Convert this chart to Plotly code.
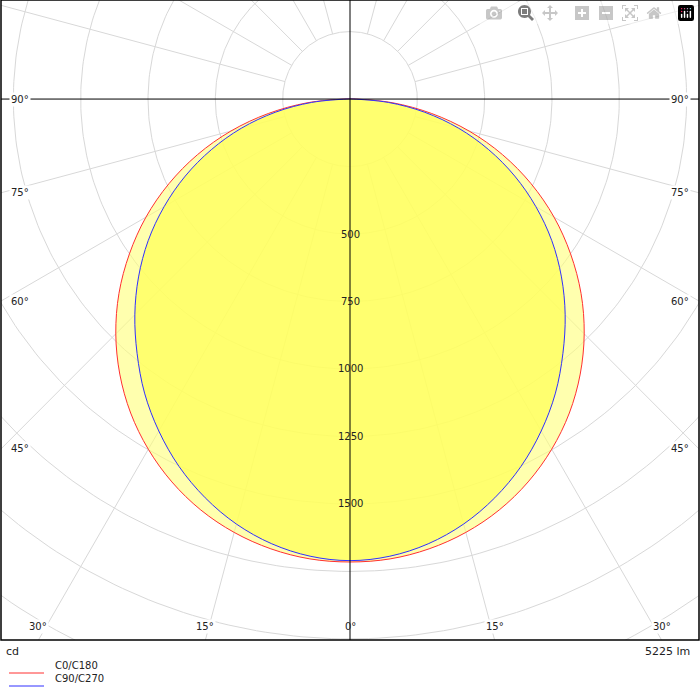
import numpy as np
import plotly.graph_objects as go

# luminous intensity (cd) vs angle from nadir, symmetric
angles = [0, 5, 10, 15, 20, 25, 30, 35, 40, 45, 50, 55, 60, 65, 70, 75, 80, 85, 90]
c0_c180 = [1715, 1710, 1692, 1662, 1620, 1565, 1498, 1420, 1330, 1230, 1120, 1000, 875, 742, 603, 458, 308, 160, 20]
c90_c270 = [1710, 1700, 1673, 1630, 1572, 1502, 1420, 1330, 1230, 1130, 1025, 915, 797, 675, 548, 418, 282, 143, 12]
grid_radii = [250, 500, 750, 1000, 1250, 1500, 1750, 2000, 2250, 2500, 2750]
label_radii = [500, 750, 1000, 1250, 1500]
spoke_angles = list(range(0, 181, 15))
flux_text = "5225 lm"

X0, X1 = -1296, 1296
Y0, Y1 = -2004, 367

fig = go.Figure()

# grid circles
t = np.linspace(0, 2 * np.pi, 361)
for r in grid_radii:
    fig.add_trace(go.Scatter(x=r * np.sin(t), y=r * np.cos(t), mode="lines",
                             line=dict(color="#d8d8d8", width=1), hoverinfo="skip", showlegend=False))
# spokes (from the first circle outwards)
for a in spoke_angles:
    for s in (1, -1):
        if a in (0, 90, 180):
            continue
        th = np.radians(a)
        fig.add_trace(go.Scatter(x=[s * 250 * np.sin(th), s * 4000 * np.sin(th)],
                                 y=[-250 * np.cos(th), -4000 * np.cos(th)], mode="lines",
                                 line=dict(color="#d8d8d8", width=1), hoverinfo="skip", showlegend=False))


def curve(vals):
    th = np.radians(np.array(angles))
    v = np.array(vals)
    xs = np.concatenate([v * np.sin(th), -(v * np.sin(th))[::-1]])
    ys = np.concatenate([-v * np.cos(th), -(v * np.cos(th))[::-1]])
    return xs, ys


xr, yr = curve(c0_c180)
xb, yb = curve(c90_c270)
fig.add_trace(go.Scatter(x=xr, y=yr, mode="lines", fill="toself", fillcolor="rgba(255,255,120,0.6)",
                         line=dict(color="#ff3030", width=1, shape="spline"), showlegend=False))
fig.add_trace(go.Scatter(x=xb, y=yb, mode="lines", fill="toself", fillcolor="rgba(255,255,90,0.75)",
                         line=dict(color="#3030ff", width=1, shape="spline"), showlegend=False))

# axes lines
fig.add_trace(go.Scatter(x=[X0 - 100, X1 + 100], y=[0, 0], mode="lines", line=dict(color="black", width=1),
                         showlegend=False, hoverinfo="skip"))
fig.add_trace(go.Scatter(x=[0, 0], y=[Y0 - 100, Y1 + 100], mode="lines", line=dict(color="black", width=1),
                         showlegend=False, hoverinfo="skip"))

font = dict(family="DejaVu Sans", size=10, color="#222")
for r in label_radii:
    fig.add_annotation(x=0, y=-r, text=str(r), showarrow=False, font=font)

# angle labels at the frame
for a in [15, 30]:
    xx = abs(Y0) * np.tan(np.radians(a))
    for s in (1, -1):
        fig.add_annotation(x=s * xx, y=Y0, yshift=14, text=f"{a}°", showarrow=False, font=font,
                           bgcolor="white")
fig.add_annotation(x=0, y=Y0, yshift=14, text="0°", showarrow=False, font=font)
for a in [45, 60, 75, 90]:
    yy = -X1 / np.tan(np.radians(a)) if a != 90 else 0
    for s, xa in ((1, "right"), (-1, "left")):
        fig.add_annotation(x=s * X1, y=yy, xanchor=xa, xshift=-s * 8, text=f"{a}°", showarrow=False,
                           font=font, bgcolor="white")

fig.add_annotation(x=0.005, y=-0.005, xref="paper", yref="paper", xanchor="left", yanchor="top",
                   text="cd", showarrow=False, font=dict(family="DejaVu Sans", size=11, color="#222"))
fig.add_annotation(x=0.99, y=-0.005, xref="paper", yref="paper", xanchor="right", yanchor="top",
                   text=flux_text, showarrow=False, font=dict(family="DejaVu Sans", size=11, color="#222"))
for i, (name, col) in enumerate([("C0/C180", "#ff3030"), ("C90/C270", "#3030ff")]):
    yp = 673 + i * 13
    fig.add_shape(type="line", xref="paper", yref="paper", x0=8 / 698, x1=43 / 698,
                  y0=(640 - yp) / 640, y1=(640 - yp) / 640, line=dict(color=col, width=1))
    fig.add_annotation(x=52 / 698, y=(640 - yp) / 640, xref="paper", yref="paper", xanchor="left",
                       text=name, showarrow=False, font=dict(family="DejaVu Sans", size=10, color="#222"))

fig.update_xaxes(range=[X0, X1], visible=False)
fig.update_yaxes(range=[Y0, Y1], visible=False)
fig.add_shape(type="rect", xref="paper", yref="paper", x0=0, x1=1, y0=0, y1=1,
              line=dict(color="black", width=1.5))
fig.update_layout(width=700, height=700, margin=dict(l=1, r=1, t=0, b=60),
                  plot_bgcolor="white", paper_bgcolor="white", showlegend=False)

fig.write_html("out.html")

# remove the default body margin so the figure fills the window
with open("out.html", encoding="utf-8") as f:
    html = f.read()
html = html.replace("<body>", '<body style="margin:0;overflow:hidden">', 1)
with open("out.html", "w", encoding="utf-8") as f:
    f.write(html)
